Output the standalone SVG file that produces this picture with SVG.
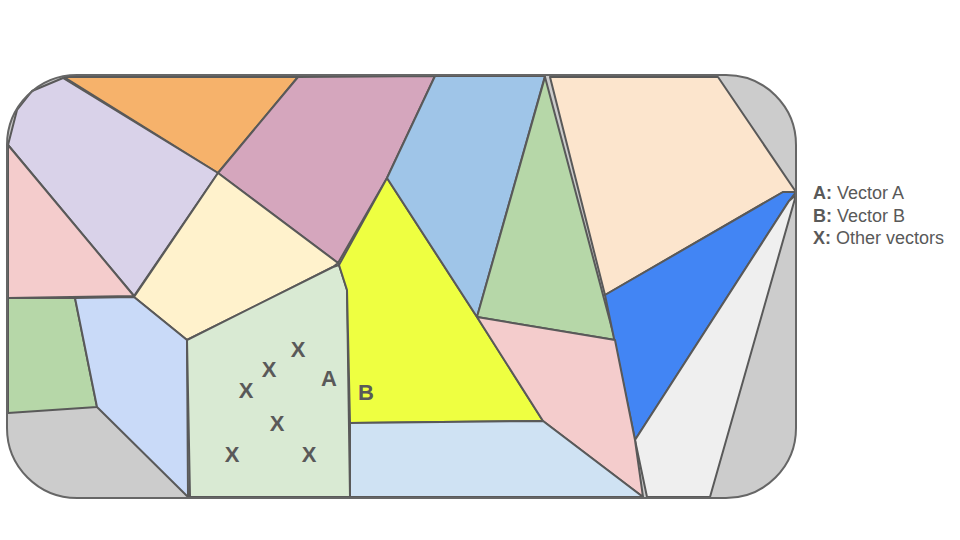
<svg xmlns="http://www.w3.org/2000/svg" width="960" height="540" viewBox="0 0 960 540">
<style>
.c{stroke:#595959;stroke-width:2;stroke-linejoin:round}
.lbl{font-family:"Liberation Sans",Arial,sans-serif;font-weight:bold;font-size:22px;fill:#595959;text-anchor:middle}
.leg{font-family:"Liberation Sans",Arial,sans-serif;font-size:18px;fill:#595959}
.leg tspan.b{font-weight:bold}
</style>
<rect width="960" height="540" fill="#ffffff"/>
<rect id="frame-bg" x="7" y="75" width="789" height="423" rx="70" ry="70" fill="#cccccc"/>
<g id="cells">
<polygon id="orange" class="c" fill="#f6b26b" points="64,77 298,77 218,173"/>
<polygon id="lavender" class="c" fill="#d9d2e9" points="63,78 32,91 17,110 8,145 134,296 218,173"/>
<polygon id="pink-left" class="c" fill="#f4cccc" points="8,145 134,296 8,298"/>
<polygon id="mauve" class="c" fill="#d5a6bd" points="298,77 435,76 387,178 338,263 218,173"/>
<polygon id="cream" class="c" fill="#fff2cc" points="218,173 338,263 333,267 187,340 134,297"/>
<polygon id="green-left" class="c" fill="#b6d7a8" points="8,298 75,298 97,407 8,413"/>
<polygon id="blue-left" class="c" fill="#c9daf8" points="75,298 134,297 187,340 188,497 97,407"/>
<polygon id="green-x" class="c" fill="#d9ead3" points="187,340 333,267 339,265 347,290 350,497 190,497"/>
<polygon id="yellow" class="c" fill="#eeff41" points="387,178 477,317 543,421 350,423 347,290 339,265"/>
<polygon id="blue-top" class="c" fill="#9fc5e8" points="435,76 545,76 477,317 387,178"/>
<polygon id="green-mid" class="c" fill="#b6d7a8" points="545,77 615,340 477,317"/>
<polygon id="peach" class="c" fill="#fce5cd" points="550,77 718,77 796,192 783,192 605,295"/>
<polygon id="blue-strong" class="c" fill="#4285f4" points="605,295 783,192 796,192 789,201 635,440"/>
<polygon id="gray-light" class="c" fill="#efefef" points="789,201 796,195 710,497 647,497 635,440"/>
<polygon id="pink-mid" class="c" fill="#f4cccc" points="477,317 615,340 635,440 643,497 543,421"/>
<polygon id="blue-bottom" class="c" fill="#cfe2f3" points="350,423 543,421 643,497 350,497"/>
</g>
<rect id="frame" x="7" y="75" width="789" height="423" rx="70" ry="70" fill="none" stroke="#666666" stroke-width="2"/>
<g id="labels">
<text class="lbl" x="298" y="357">X</text>
<text class="lbl" x="269" y="377">X</text>
<text class="lbl" x="246" y="398">X</text>
<text class="lbl" x="277" y="431">X</text>
<text class="lbl" x="232" y="462">X</text>
<text class="lbl" x="309" y="462">X</text>
<text class="lbl" x="329" y="386">A</text>
<text class="lbl" x="366" y="400">B</text>
</g>
<g id="legend">
<text class="leg" x="813" y="199"><tspan class="b">A:</tspan> Vector A</text>
<text class="leg" x="813" y="221.5"><tspan class="b">B:</tspan> Vector B</text>
<text class="leg" x="813" y="244"><tspan class="b">X:</tspan> Other vectors</text>
</g>
</svg>
